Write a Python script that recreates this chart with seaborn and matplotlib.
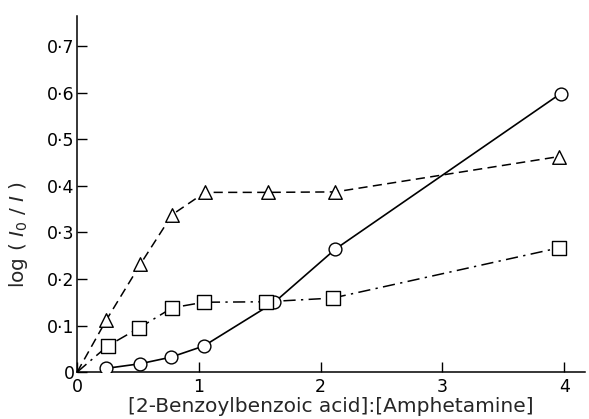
import matplotlib
matplotlib.use('Agg')
import matplotlib.pyplot as plt
import seaborn as sns
import pandas as pd

# --------------- DATA -----------------
# ratio [2-benzoylbenzoic acid]:[amphetamine]
circle_x = [0.24, 0.52, 0.77, 1.04, 1.62, 2.12, 3.97]
circle_y = [0.008, 0.018, 0.032, 0.056, 0.150, 0.264, 0.598]

square_x = [0.25, 0.51, 0.78, 1.04, 1.55, 2.10, 3.96]
square_y = [0.056, 0.095, 0.138, 0.150, 0.151, 0.159, 0.267]

triangle_x = [0.24, 0.52, 0.78, 1.05, 1.57, 2.12, 3.96]
triangle_y = [0.112, 0.232, 0.338, 0.386, 0.386, 0.387, 0.463]

xticks = [0, 1, 2, 3, 4]
yticks = [0, 0.1, 0.2, 0.3, 0.4, 0.5, 0.6, 0.7]
ytick_labels = ['0', '0·1', '0·2', '0·3', '0·4', '0·5', '0·6', '0·7']


sns.set_style('ticks')
plt.rcParams['font.family'] = ['DejaVu Sans']
plt.rcParams['mathtext.fontset'] = 'dejavusans'

fig = plt.figure(figsize=(5.89, 4.19), dpi=100)
ax = fig.add_axes([0.131, 0.112, 0.862, 0.85])

# lines (dashed & dash-dot curves run from the origin)
circ = pd.DataFrame({'x': circle_x, 'y': circle_y})
sq = pd.DataFrame({'x': [0] + square_x, 'y': [0] + square_y})
tri = pd.DataFrame({'x': [0] + triangle_x, 'y': [0] + triangle_y})

sns.lineplot(data=circ, x='x', y='y', ax=ax, color='black', lw=1.2,
             linestyle='-', sort=False)
sns.lineplot(data=sq, x='x', y='y', ax=ax, color='black', lw=1.1,
             sort=False, linestyle=(0, (8, 3.5, 1.5, 3.5)))
sns.lineplot(data=tri, x='x', y='y', ax=ax, color='black', lw=1.1,
             sort=False, linestyle=(0, (6, 3.5)))

# markers
mk = dict(color='white', edgecolor='black', linewidth=1.0, zorder=5, ax=ax)
sns.scatterplot(x=circle_x, y=circle_y, marker='o', s=85, **mk)
sns.scatterplot(x=square_x, y=square_y, marker='s', s=95, **mk)
sns.scatterplot(x=triangle_x, y=triangle_y, marker='^', s=95, **mk)

ax.set_xlim(0, 4.17)
ax.set_ylim(0, 0.765)
ax.set_xticks(xticks)
ax.set_xticklabels([str(t) for t in xticks])
ax.set_yticks(yticks)
ax.set_yticklabels(ytick_labels)
ax.tick_params(direction='in', length=7, width=1, labelsize=12.5, colors='black', pad=2)
ax.tick_params(axis='x', pad=4)

sns.despine(ax=ax)
for s in ['left', 'bottom']:
    ax.spines[s].set_linewidth(1.1)
    ax.spines[s].set_color('black')

ax.set_xlabel('[2-Benzoylbenzoic acid]:[Amphetamine]', fontsize=14.5, labelpad=1)
ax.set_ylabel(r'log ( $I_0$ / $I$ )', fontsize=14.5)
ax.yaxis.set_label_coords(-0.092, 0.385)

fig.savefig('out.png', dpi=100)
